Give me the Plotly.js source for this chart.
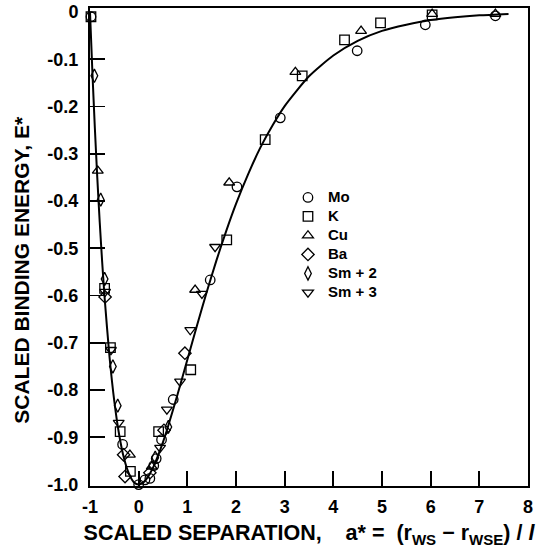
<!DOCTYPE html>
<html>
<head>
<meta charset="utf-8">
<script src="https://cdn.plot.ly/plotly-3.0.1.min.js"></script>
<style>html,body{margin:0;padding:0;background:#fff;}#chart{width:543px;height:548px;}</style>
</head>
<body>
<div id="chart"></div>
<script>
// Universal binding-energy curve
const curveA = [-1.0,-0.95,-0.9,-0.85,-0.8,-0.75,-0.7,-0.6,-0.5,-0.4,-0.3,-0.2,-0.1,0.0,0.1,0.2,0.3,0.4,0.5,0.6,0.8,1.0,1.2,1.4,1.6,1.8,2.0,2.25,2.5,2.75,3.0,3.5,4.0,4.5,5.0,5.5,6.0,6.5,7.0,7.6];
const curveE = [0.0,-0.129,-0.246,-0.351,-0.445,-0.529,-0.604,-0.729,-0.824,-0.895,-0.945,-0.977,-0.995,-1.0,-0.995,-0.982,-0.963,-0.938,-0.910,-0.878,-0.809,-0.736,-0.663,-0.592,-0.525,-0.463,-0.406,-0.343,-0.287,-0.240,-0.199,-0.136,-0.092,-0.061,-0.040,-0.027,-0.017,-0.011,-0.007,-0.004];

// Data points per element
const moA = [-0.98,-0.33,0.0,0.13,0.23,0.31,0.36,0.47,0.71,1.47,2.02,2.91,4.49,5.89,7.33];
const moE = [-0.01,-0.915,-1.0,-0.99,-0.987,-0.96,-0.945,-0.905,-0.82,-0.567,-0.37,-0.224,-0.082,-0.027,-0.008];
const kA = [-0.98,-0.70,-0.58,-0.38,-0.17,0.41,1.07,1.81,2.6,3.36,4.23,4.97,6.03];
const kE = [-0.01,-0.585,-0.71,-0.888,-0.972,-0.888,-0.757,-0.482,-0.27,-0.135,-0.059,-0.023,-0.006];
const cuA = [-0.84,-0.18,0.27,1.16,1.86,3.22,4.57,6.03,7.33];
const cuE = [-0.336,-0.937,-0.962,-0.588,-0.361,-0.127,-0.04,-0.004,-0.004];
const baA = [-0.69,-0.31,-0.28,0.23,0.52,0.95];
const baE = [-0.603,-0.937,-0.983,-0.975,-0.885,-0.722];
const sm2A = [-0.91,-0.78,-0.70,-0.53,-0.43,0.34,0.61];
const sm2E = [-0.135,-0.397,-0.565,-0.75,-0.833,-0.943,-0.878];
const sm3A = [-0.69,-0.57,-0.41,0.44,0.58,0.85,1.06,1.30,1.57];
const sm3E = [-0.592,-0.715,-0.869,-0.922,-0.841,-0.782,-0.673,-0.596,-0.497];

const seriesNames = ['Mo','K','Cu','Ba','Sm + 2','Sm + 3'];

const xTickVals = [-1,0,1,2,3,4,5,6,7,8];
const xTickText = ['-1','0','1','2','3','4','5','6','7','8'];
const xMinorTicks = [0,1,2,3,4,5,6,7];
const yTickVals = [0,-0.1,-0.2,-0.3,-0.4,-0.5,-0.6,-0.7,-0.8,-0.9,-1.0];
const yTickText = ['0','-0.1','-0.2','-0.3','-0.4','-0.5','-0.6','-0.7','-0.8','-0.9','-1.0'];
const yMinorTicks = [-0.1,-0.2,-0.3,-0.4,-0.5,-0.6,-0.7,-0.8,-0.9];

const FONT = 'Liberation Sans, Arial, Helvetica, sans-serif';

function pts(name, xs, ys, symbol) {
  return {
    type: 'scatter', mode: 'markers',
    name: '<span style="font-size:15px"><b>' + name + '</b></span>',
    x: xs, y: ys,
    marker: {symbol: symbol, size: 9.5, color: '#000', line: {color: '#000', width: 1.3}},
    cliponaxis: false
  };
}

const data = [
  {type:'scatter', mode:'lines', x: curveA, y: curveE, showlegend:false,
   line:{color:'#000', width:2, shape:'spline', smoothing:0.6}, hoverinfo:'skip'},
  pts(seriesNames[0], moA, moE, 'circle-open'),
  pts(seriesNames[1], kA, kE, 'square-open'),
  pts(seriesNames[2], cuA, cuE, 'triangle-up-open'),
  pts(seriesNames[3], baA, baE, 'diamond-open'),
  pts(seriesNames[4], sm2A, sm2E, 'diamond-tall-open'),
  pts(seriesNames[5], sm3A, sm3E, 'triangle-down-open')
];

const nb = '\u00a0'.repeat(8);
const sp = '\u00a0';

const layout = {
  width: 543, height: 548,
  margin: {l: 90, r: 15, t: 8, b: 62},
  paper_bgcolor: '#fff', plot_bgcolor: '#fff',
  font: {family: FONT, color: '#000'},
  showlegend: true,
  legend: {
    x: 0.452, y: 0.634, xanchor: 'left', yanchor: 'top',
    bgcolor: 'rgba(0,0,0,0)', borderwidth: 0,
    font: {family: FONT, size: 12, color: '#000'},
    itemwidth: 30, tracegroupgap: 0
  },
  xaxis: {
    range: [-1, 8], tickmode: 'array', tickvals: xTickVals, ticktext: xTickText,
    ticks: '', showline: true, linecolor: '#000', linewidth: 2, mirror: true,
    showgrid: false, zeroline: false, ticklabelstandoff: 3,
    tickfont: {family: FONT, size: 18, weight: 'bold', color: '#000'},
    minor: {tickmode: 'array', tickvals: xMinorTicks, ticks: 'inside', ticklen: 15, tickwidth: 1.8, tickcolor: '#000', showgrid: false},
    title: {text: '<b>SCALED SEPARATION,' + sp + sp + sp + sp + 'a*' + sp + '=' + sp + sp + '(r<sub>WS</sub>' + sp + '\u2212' + sp + 'r<sub>WSE</sub>)' + sp + '/' + sp + '<i>l</i></b>',
            font: {family: FONT, size: 21.5, color: '#000'}, standoff: 12}
  },
  yaxis: {
    range: [-1.003, 0.0085], tickmode: 'array', tickvals: yTickVals, ticktext: yTickText,
    ticks: '', showline: true, linecolor: '#000', linewidth: 2, mirror: true,
    showgrid: false, zeroline: false, ticklabelstandoff: 6,
    tickfont: {family: FONT, size: 18, weight: 'bold', color: '#000'},
    minor: {tickmode: 'array', tickvals: yMinorTicks, ticks: 'inside', ticklen: 15, tickwidth: 1.8, tickcolor: '#000', showgrid: false},
    title: {text: '<b>SCALED BINDING ENERGY, E*' + nb + '</b>',
            font: {family: FONT, size: 21, color: '#000'}, standoff: 12}
  }
};

Plotly.newPlot('chart', data, layout, {displayModeBar: false, staticPlot: true});
</script>
</body>
</html>
